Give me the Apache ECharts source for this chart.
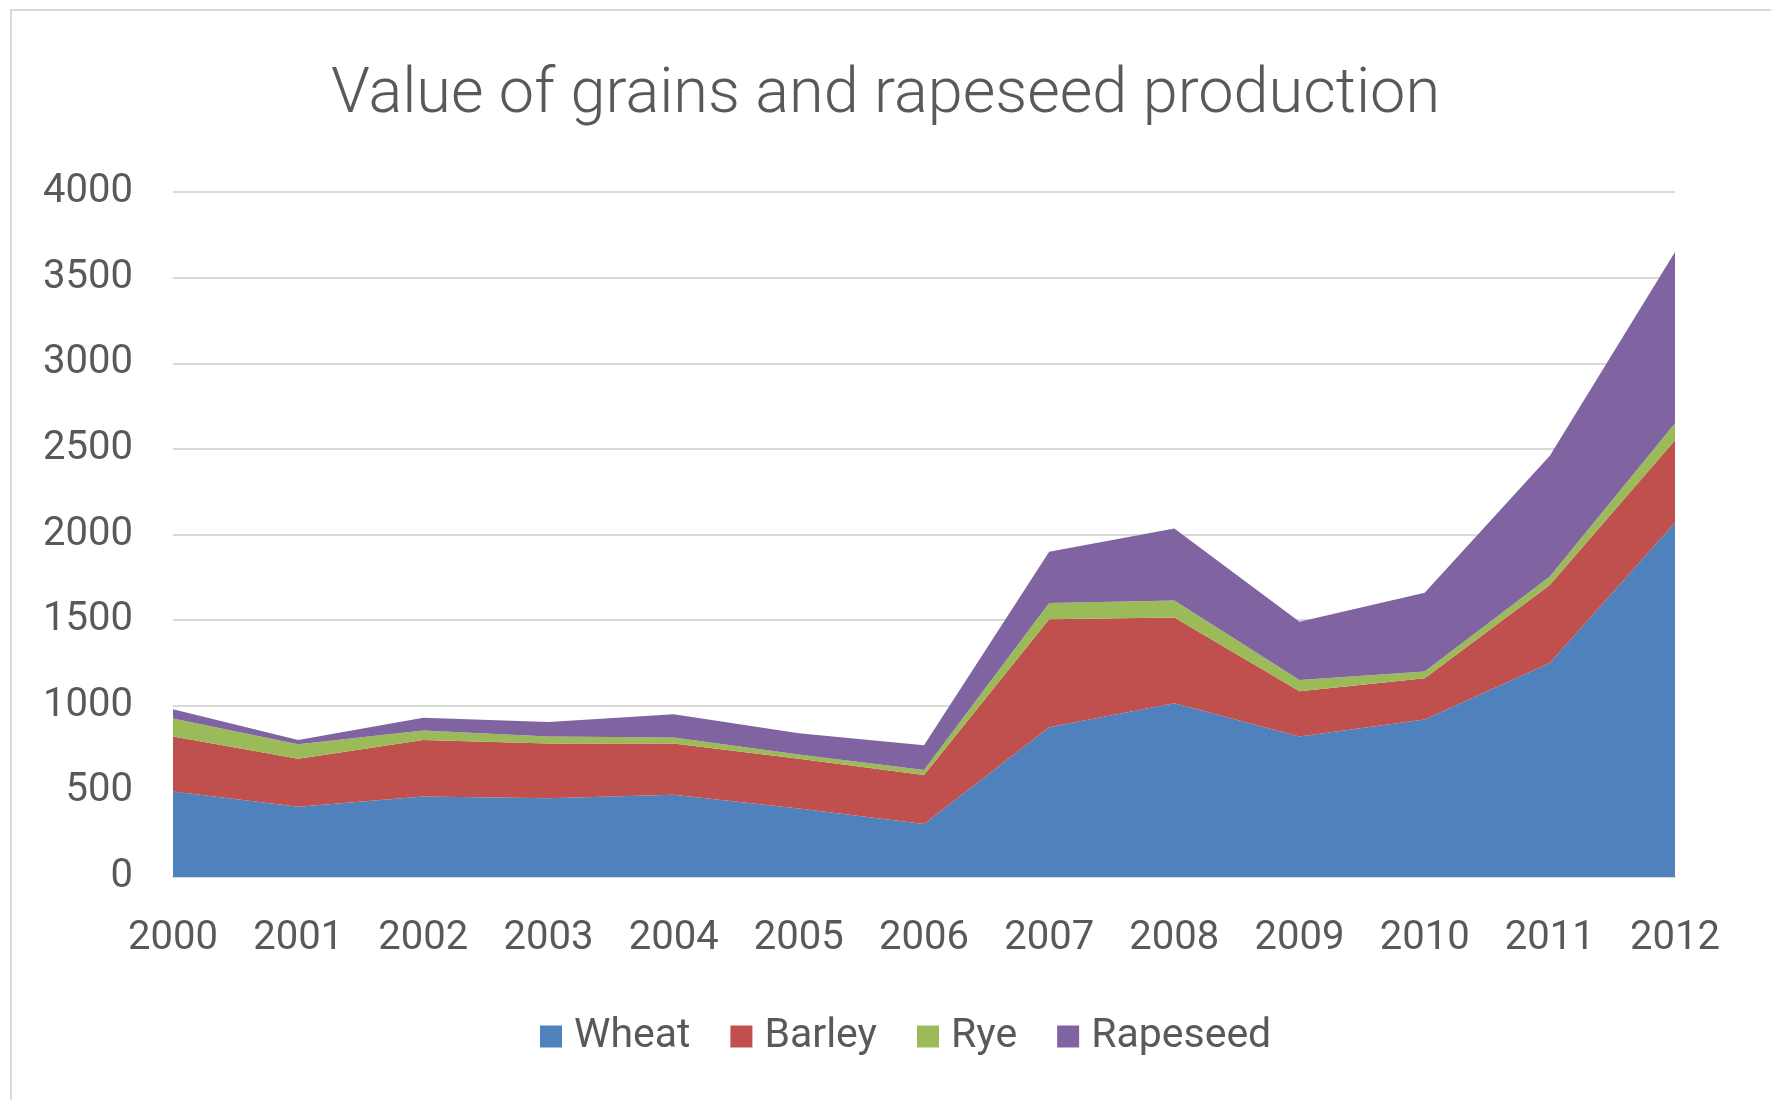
<!DOCTYPE html>
<html>
<head>
<meta charset="utf-8">
<title>Value of grains and rapeseed production</title>
<script src="https://cdn.jsdelivr.net/npm/echarts@6/dist/echarts.min.js"></script>
<style>
  html, body { margin: 0; padding: 0; background: #fff; }
  #chart { width: 1771px; height: 1100px; }
</style>
</head>
<body>
<div id="chart"></div>
<script>
// data
const years = ["2000", "2001", "2002", "2003", "2004", "2005", "2006", "2007", "2008", "2009", "2010", "2011", "2012"];
const wheat = [500, 410, 470, 460, 480, 400, 310, 875, 1015, 820, 920, 1250, 2070];
const barley = [320, 280, 330, 320, 300, 290, 285, 630, 500, 265, 240, 455, 480];
const rye = [105, 85, 55, 40, 35, 25, 30, 95, 100, 65, 40, 50, 100];
const rapeseed = [55, 25, 75, 85, 135, 125, 145, 300, 420, 340, 460, 705, 1000];

const textColor = "#595959";
const fontFamily = "Roboto, 'Open Sans', sans-serif";

function areaSeries(name, values, color) {
  return {
    name: name,
    type: "line",
    stack: "total",
    symbol: "none",
    data: values,
    itemStyle: { color: color },
    lineStyle: { width: 0 },
    areaStyle: { color: color, opacity: 1 },
  };
}

let chart = echarts.init(document.getElementById("chart"));
chart.setOption({
  animation: false,
  textStyle: { fontFamily: fontFamily },
  graphic: [
    {
      type: "rect",
      shape: { x: 11, y: 10, width: 1800, height: 1200 },
      style: { fill: "none", stroke: "#d9d9d9", lineWidth: 2 },
    },
  ],
  title: {
    text: "Value of grains and rapeseed production",
    left: "center",
    top: 60,
    textStyle: { color: textColor, fontSize: 63, fontWeight: 300, fontFamily: fontFamily },
  },
  legend: {
    data: ["Wheat", "Barley", "Rye", "Rapeseed"],
    bottom: 38,
    left: 535,
    icon: "rect",
    itemWidth: 22,
    itemHeight: 22,
    itemGap: 40,
    textStyle: { color: textColor, fontSize: 41, fontFamily: fontFamily, padding: [0, 0, 0, 7] },
  },
  grid: { left: 173, right: 96, top: 192, bottom: 223 },
  xAxis: {
    type: "category",
    boundaryGap: false,
    data: years,
    axisLine: { lineStyle: { color: "#d9d9d9", width: 2 } },
    axisTick: { show: false },
    axisLabel: { color: textColor, fontSize: 40, margin: 42 },
  },
  yAxis: {
    type: "value",
    min: 0,
    max: 4000,
    interval: 500,
    axisLine: { show: false },
    axisTick: { show: false },
    axisLabel: { color: textColor, fontSize: 40, margin: 40, formatter: (v) => String(v) },
    splitLine: { lineStyle: { color: "#d9d9d9", width: 2 } },
  },
  series: [
    areaSeries("Wheat", wheat, "#4F81BD"),
    areaSeries("Barley", barley, "#C0504D"),
    areaSeries("Rye", rye, "#9BBB59"),
    areaSeries("Rapeseed", rapeseed, "#8064A2"),
  ],
});
</script>
</body>
</html>
